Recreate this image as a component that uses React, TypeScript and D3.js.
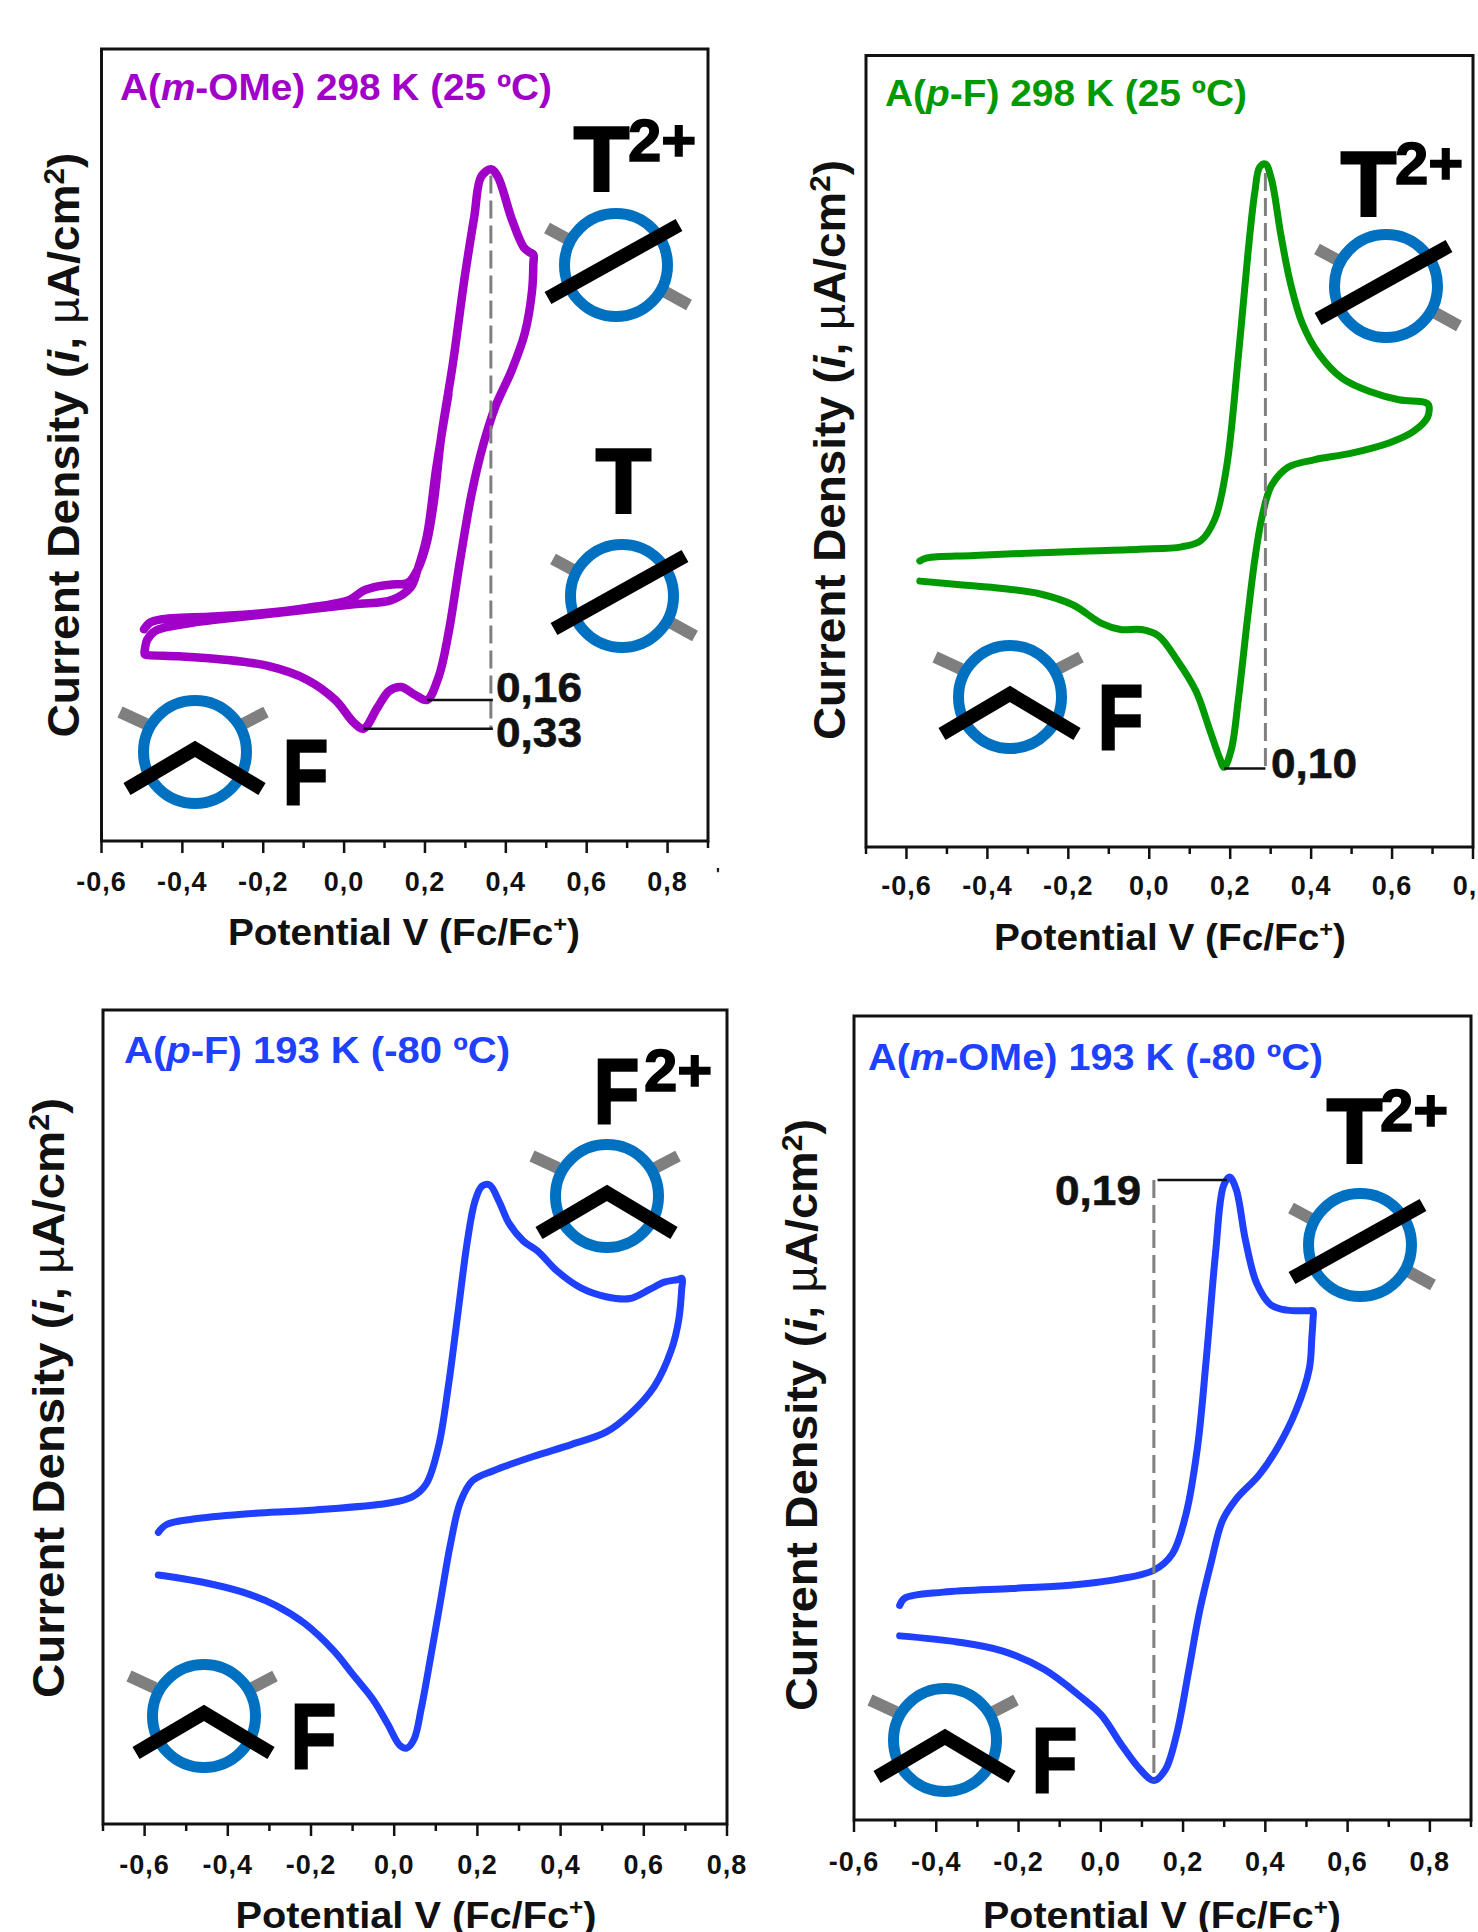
import React from 'react';
import * as d3 from 'd3';

const FONT = '"Liberation Sans", Arial, sans-serif';
const TICKS = [-0.6, -0.4, -0.2, 0, 0.2, 0.4, 0.6, 0.8];
const fmt = (v: number) => v.toFixed(1).replace('.', ',');

// Potential (V) and current (a.u., no y ticks in the source)
const mOMe298V = [-0.495,-0.480,-0.454,-0.326,-0.209,-0.092,0.013,0.048,0.083,0.118,0.158,0.182,0.205,0.223,0.240,0.269,0.298,0.322,0.339,0.363,0.380,0.415,0.444,0.458,0.468,0.468,0.465,0.447,0.415,0.374,0.345,0.316,0.287,0.258,0.234,0.205,0.176,0.141,0.112,0.083,0.048,0.024,-0.022,-0.092,-0.186,-0.302,-0.407,-0.485,-0.493,-0.492,-0.487,-0.466,-0.384,-0.326,-0.151,0.024,0.118,0.164,0.182,0.205,0.228,0.258];
const mOMe298I = [345,356,361,366,371,380,393,408,415,418,421,443,488,558,658,778,918,1018,1083,1095,1083,1013,968,960,956,940,898,828,768,708,648,568,458,338,268,230,238,251,245,218,183,193,230,263,285,296,301,303,304,315,328,343,355,360,373,386,393,413,443,498,608,728];

const pF298V = [-0.567,-0.549,-0.433,-0.199,-0.024,0.080,0.127,0.162,0.191,0.220,0.244,0.261,0.273,0.287,0.302,0.325,0.349,0.378,0.419,0.477,0.547,0.617,0.680,0.690,0.688,0.652,0.594,0.500,0.407,0.343,0.302,0.279,0.261,0.244,0.220,0.203,0.185,0.174,0.150,0.115,0.069,0.022,-0.019,-0.071,-0.118,-0.188,-0.269,-0.363,-0.468,-0.567];
const pF298I = [467,472,476,482,486,490,500,535,620,800,970,1070,1110,1115,1090,1000,920,855,805,765,743,730,726,722,702,678,660,643,632,620,590,540,470,380,240,160,130,145,190,255,305,345,355,355,365,395,413,422,428,434];

const pF193V = [-0.567,-0.547,-0.483,-0.366,-0.191,-0.016,0.042,0.077,0.106,0.130,0.153,0.176,0.194,0.211,0.229,0.252,0.275,0.310,0.345,0.392,0.450,0.509,0.567,0.614,0.649,0.680,0.692,0.691,0.684,0.666,0.625,0.567,0.509,0.427,0.334,0.240,0.188,0.159,0.135,0.112,0.089,0.065,0.048,0.030,0.013,-0.016,-0.051,-0.098,-0.145,-0.215,-0.285,-0.366,-0.460,-0.567];
const pF193I = [480,493,502,510,517,528,538,560,620,720,840,960,1025,1050,1052,1025,990,960,943,910,882,868,865,880,892,896,898,880,830,780,720,675,645,625,605,582,565,530,460,370,280,190,140,125,130,165,205,245,285,330,360,382,398,410];

const mOMe193V = [-0.489,-0.477,-0.383,-0.216,-0.082,0.040,0.129,0.174,0.207,0.235,0.257,0.279,0.298,0.313,0.329,0.352,0.379,0.413,0.452,0.505,0.516,0.516,0.513,0.507,0.474,0.430,0.385,0.329,0.296,0.268,0.240,0.213,0.185,0.157,0.129,0.096,0.051,0.001,-0.049,-0.138,-0.238,-0.349,-0.489];
const mOMe193I = [353,365,375,381,386,396,411,438,503,613,763,933,1043,1058,1038,953,883,848,839,838,838,825,793,743,673,613,568,528,493,423,343,243,143,83,65,83,123,173,203,248,278,293,303];

const panels = [
  { box: [101.5, 708, 49, 841], dom: [-0.6, 0.9], h: 1291, V: mOMe298V, I: mOMe298I, color: '#A000C8', lw: 8.5,
    title: ['A(', 'm', '-OMe) 298 K (25 ºC)'], tx: 120, ty: 100, tl: 432, tickY: 891, xt: [404, 945, 352], yt: [79, 445, 585],
    dashes: [[0.363, 1085, 183]], leaders: [[0.205, 0.368, 230], [0.048, 0.368, 183]],
    notes: [['0,16', 496, 702], ['0,33', 496, 747]] },
  { box: [866, 1473, 55.5, 847], dom: [-0.7, 0.8], h: 1292, V: pF298V, I: pF298I, color: '#009900', lw: 7,
    title: ['A(', 'p', '-F) 298 K (25 ºC)'], tx: 885, ty: 106, tl: 362, tickY: 895, xt: [1170, 950, 352], yt: [845, 450, 580],
    dashes: [[0.287, 1100, 128]], leaders: [[0.185, 0.287, 128]],
    notes: [['0,10', 1271, 778]] },
  { box: [103, 727, 1010, 1824], dom: [-0.7, 0.8], h: 1340, V: pF193V, I: pF193I, color: '#2040FF', lw: 7,
    title: ['A(', 'p', '-F) 193 K (-80 ºC)'], tx: 124, ty: 1063, tl: 386, tickY: 1874, xt: [416, 1928, 361], yt: [64, 1398, 600],
    dashes: [], leaders: [], notes: [] },
  { box: [854, 1471, 1016, 1820], dom: [-0.6, 0.9], h: 1323, V: mOMe193V, I: mOMe193I, color: '#2040FF', lw: 7,
    title: ['A(', 'm', '-OMe) 193 K (-80 ºC)'], tx: 868, ty: 1070, tl: 455, tickY: 1871, xt: [1162, 1928, 358], yt: [817, 1415, 592],
    dashes: [[0.129, 1053, 65]], leaders: [[0.138, 0.307, 1053]],
    notes: [['0,19', 1055, 1205]] },
];

// kind, centre x, centre y
const icons: [string, number, number][] = [
  ['T', 616, 265], ['T', 622, 596], ['F', 195, 752],
  ['T', 1386, 286], ['F', 1010, 697],
  ['F', 607, 1196], ['F', 204, 1716],
  ['T', 1360, 1245], ['F', 945, 1740],
];

// letter, charge, x, baseline, charge x, charge baseline
const letters: [string, string, number, number, number, number][] = [
  ['T', '2+', 574, 191, 628, 161], ['T', '', 596, 513, 0, 0], ['F', '', 283, 804, 0, 0],
  ['T', '2+', 1341, 216, 1395, 184], ['F', '', 1098, 749, 0, 0],
  ['F', '2+', 594, 1123, 644, 1091], ['F', '', 291, 1768, 0, 0],
  ['T', '2+', 1327, 1163, 1380, 1131], ['F', '', 1032, 1792, 0, 0],
];

function Icon({ kind, cx, cy }: { kind: string; cx: number; cy: number }) {
  const stubs = kind === 'T'
    ? [[-69, -37, -43, -23], [44, 24, 73, 40]]
    : [[-75, -40, -49, -28], [71, -40, 48, -28]];
  return (
    <g transform={`translate(${cx},${cy})`}>
      {stubs.map((s, i) => (
        <line key={i} x1={s[0]} y1={s[1]} x2={s[2]} y2={s[3]} stroke="#7f7f7f" strokeWidth={12} />
      ))}
      <circle r={51.5} fill="none" stroke="#0070C0" strokeWidth={11} />
      {kind === 'T'
        ? <line x1={-68} y1={33} x2={63} y2={-40} stroke="#000" strokeWidth={14} />
        : <path d="M-68,37 L0,-3 L67,37" fill="none" stroke="#000" strokeWidth={14} strokeMiterlimit={2} />}
    </g>
  );
}

function Panel({ p }: { p: (typeof panels)[number] }) {
  const [x0, x1, y0, y1] = p.box;
  const x = d3.scaleLinear().domain(p.dom).range([x0, x1]);
  const y = d3.scaleLinear().domain([0, p.h]).range([y1, y0]);
  const line = d3.line<number>()
    .x((v) => x(v))
    .y((_, i) => y(p.I[i]))
    .curve(d3.curveCatmullRom.alpha(0.5));
  const minors = d3.range(Math.round(p.dom[0] * 10), Math.round(p.dom[1] * 10) + 1).map((d) => d / 10);
  return (
    <g fontFamily={FONT}>
      <rect x={x0} y={y0} width={x1 - x0} height={y1 - y0} fill="none" stroke="#111" strokeWidth={3} />
      {minors.map((t) => {
        const major = TICKS.some((m) => Math.abs(m - t) < 1e-6);
        return <line key={t} x1={x(t)} x2={x(t)} y1={y1} y2={y1 + (major ? 12 : 7)} stroke="#111" strokeWidth={2.5} />;
      })}
      {TICKS.map((t) => (
        <text key={t} x={x(t)} y={p.tickY} textAnchor="middle" fontWeight="bold" fontSize={27} letterSpacing={1} fill="#111">{fmt(t)}</text>
      ))}
      <path d={line(p.V) || ''} fill="none" stroke={p.color} strokeWidth={p.lw} strokeLinejoin="round" strokeLinecap="round" />
      {p.dashes.map((d, i) => (
        <line key={i} x1={x(d[0])} x2={x(d[0])} y1={y(d[1])} y2={y(d[2])} stroke="#808080" strokeWidth={3} strokeDasharray="18 7" />
      ))}
      {p.leaders.map((d, i) => (
        <line key={i} x1={x(d[0])} x2={x(d[1])} y1={y(d[2])} y2={y(d[2])} stroke="#111" strokeWidth={2.5} />
      ))}
      {p.notes.map((n, i) => (
        <text key={i} x={n[1] as number} y={n[2] as number} fontWeight="bold" fontSize={43} fill="#111" stroke="#111" strokeWidth={0.6} textLength={86} lengthAdjust="spacingAndGlyphs">{n[0]}</text>
      ))}
      <text x={p.tx} y={p.ty} fontWeight="bold" fontSize={37} fill={p.color} textLength={p.tl} lengthAdjust="spacingAndGlyphs">
        {p.title[0]}<tspan fontStyle="italic">{p.title[1]}</tspan>{p.title[2]}
      </text>
      <text x={p.xt[0]} y={p.xt[1]} textAnchor="middle" fontWeight="bold" fontSize={36} fill="#111" textLength={p.xt[2]} lengthAdjust="spacingAndGlyphs">
        Potential V (Fc/Fc<tspan dy={-13} fontSize={22}>+</tspan><tspan dy={13}>)</tspan>
      </text>
      <text transform={`translate(${p.yt[0]},${p.yt[1]}) rotate(-90)`} textAnchor="middle" fontWeight="bold" fontSize={45} fill="#111" textLength={p.yt[2]} lengthAdjust="spacingAndGlyphs">
        Current Density (<tspan fontStyle="italic">i</tspan>, <tspan fontWeight="normal">µ</tspan>A/cm<tspan dy={-15} fontSize={29}>2</tspan><tspan dy={15}>)</tspan>
      </text>
    </g>
  );
}

export default function App() {
  return (
    <svg width={1478} height={1932} style={{ position: 'absolute', left: 0, top: 0, background: '#fff' }}>
      {panels.map((p, i) => <Panel key={i} p={p} />)}
      {icons.map((c, i) => <Icon key={i} kind={c[0]} cx={c[1]} cy={c[2]} />)}
      <g fontFamily={FONT} fontWeight="bold" fill="#000">
        {letters.map((l, i) => (
          <g key={i}>
            <text transform={`translate(${l[2]},${l[3]}) scale(${l[0] === 'F' ? 0.82 : 1},1)`} fontSize={90} stroke="#000" strokeWidth={3}>{l[0]}</text>
            {l[1] && <text x={l[4]} y={l[5]} fontSize={60} stroke="#000" strokeWidth={1.5}>{l[1]}</text>}
          </g>
        ))}
        <text x={716} y={880} fontSize={16}>'</text>
      </g>
    </svg>
  );
}
